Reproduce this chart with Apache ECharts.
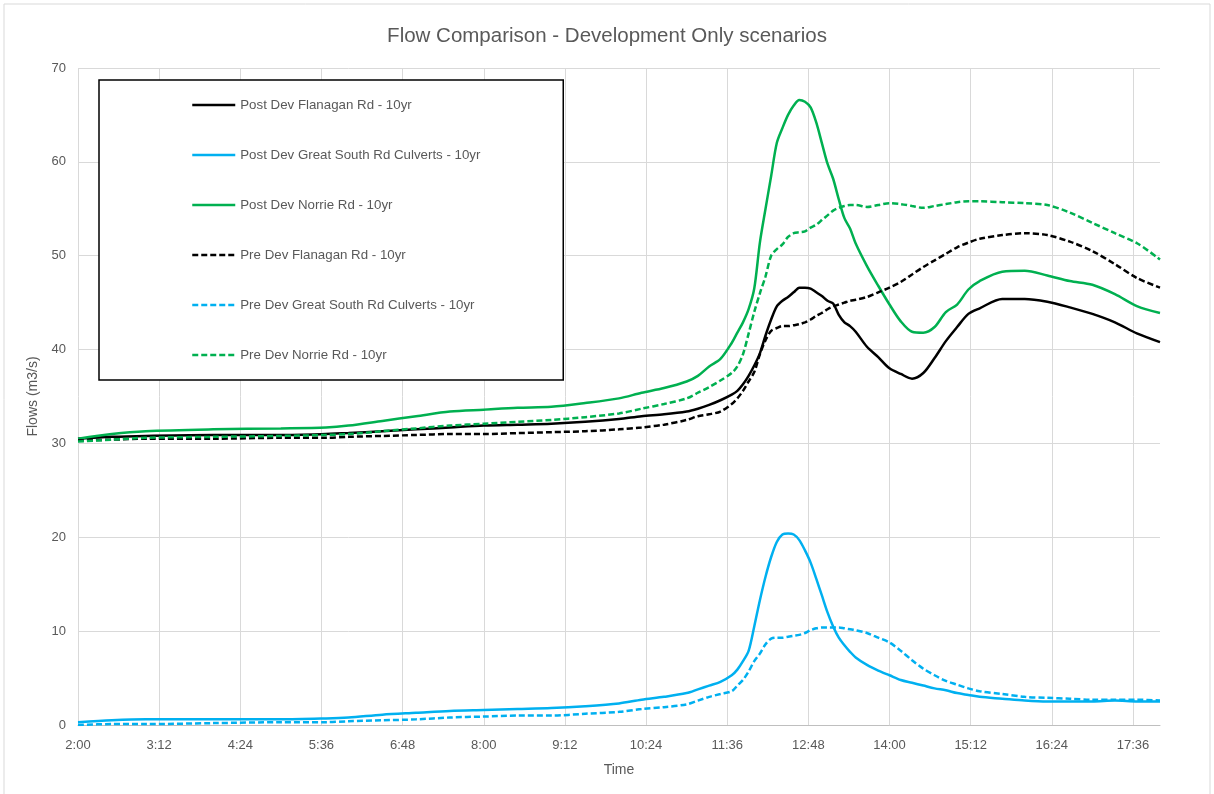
<!DOCTYPE html>
<html><head><meta charset="utf-8">
<script src="https://cdn.jsdelivr.net/npm/echarts@6/dist/echarts.min.js"></script>
<style>html,body{margin:0;padding:0;background:#fff}#c{width:1214px;height:794px}</style>
</head><body><div id="c"></div>
<script>
const titleText = 'Flow Comparison - Development Only scenarios';
const seriesNames = [
  'Post Dev Flanagan Rd - 10yr',
  'Post Dev Great South Rd Culverts - 10yr',
  'Post Dev Norrie Rd - 10yr',
  'Pre Dev Flanagan Rd - 10yr',
  'Pre Dev Great South Rd Culverts - 10yr',
  'Pre Dev Norrie Rd - 10yr'
];
const times = ['2:00','2:30','3:00','4:00','5:00','5:40','6:00','6:30','7:00','7:30','8:00','8:30','9:00','9:30','10:00','10:20','10:40','11:00','11:10','11:20','11:30','11:40','11:45','11:50','11:55','12:00','12:05','12:10','12:15','12:20','12:25','12:30','12:35','12:40','12:45','12:50','12:55','13:00','13:05','13:10','13:15','13:20','13:25','13:30','13:40','13:50','14:00','14:10','14:20','14:30','14:40','14:50','15:00','15:10','15:20','15:40','16:00','16:20','16:40','17:00','17:20','17:40','18:00'];

const postFlanagan = [30.5,30.7,30.8,30.9,30.9,31.0,31.1,31.3,31.5,31.7,31.9,32.0,32.1,32.3,32.6,32.9,33.1,33.4,33.7,34.1,34.6,35.2,35.6,36.3,37.2,38.3,39.6,41.5,43.2,44.6,45.2,45.6,46.1,46.6,46.6,46.5,46.1,45.7,45.2,44.9,43.7,42.9,42.5,41.9,40.3,39.2,38.0,37.4,36.9,37.5,39.1,40.9,42.4,43.8,44.4,45.4,45.4,45.1,44.5,43.8,42.9,41.7,40.8];
const postGSR = [0.3,0.5,0.6,0.6,0.6,0.7,0.8,1.1,1.3,1.5,1.6,1.7,1.8,2.0,2.3,2.7,3.0,3.4,3.8,4.2,4.6,5.3,5.9,6.8,7.9,10.5,13.3,15.8,17.9,19.5,20.3,20.4,20.3,19.7,18.6,17.3,15.6,13.8,12.0,10.5,9.3,8.5,7.8,7.2,6.4,5.8,5.3,4.8,4.5,4.2,3.9,3.7,3.4,3.2,3.0,2.8,2.6,2.5,2.5,2.5,2.6,2.5,2.5];
const postNorrie = [30.5,31.0,31.3,31.5,31.6,31.7,31.9,32.4,32.9,33.4,33.6,33.8,33.9,34.3,34.8,35.4,35.9,36.6,37.2,38.2,39.0,40.7,41.8,42.9,44.3,46.5,51.4,55.0,58.5,62.0,63.6,65.0,66.0,66.6,66.4,65.8,64.2,62.0,59.8,58.2,56.0,54.0,52.9,51.3,48.9,46.8,44.8,43.0,41.9,41.8,42.4,44.0,44.8,46.4,47.3,48.3,48.4,47.9,47.3,46.9,45.9,44.6,43.9];
const preFlanagan = [30.3,30.4,30.5,30.5,30.6,30.6,30.7,30.8,30.9,31.0,31.0,31.1,31.2,31.3,31.5,31.7,32.0,32.5,32.9,33.1,33.4,34.2,34.8,35.6,36.6,37.6,39.5,41.0,42.0,42.3,42.5,42.5,42.6,42.7,42.9,43.2,43.6,43.9,44.3,44.6,44.8,45.0,45.2,45.3,45.6,46.1,46.6,47.2,48.0,48.8,49.5,50.2,50.9,51.4,51.8,52.2,52.4,52.2,51.5,50.5,49.1,47.6,46.6];
const preGSR = [0.0,0.1,0.1,0.2,0.3,0.3,0.4,0.5,0.6,0.8,0.9,1.0,1.0,1.2,1.4,1.7,1.9,2.2,2.6,3.0,3.3,3.6,4.2,4.8,5.7,6.8,7.6,8.6,9.2,9.3,9.3,9.4,9.5,9.6,9.8,10.1,10.3,10.4,10.4,10.4,10.4,10.3,10.2,10.1,9.8,9.3,8.8,7.9,6.9,6.0,5.3,4.7,4.3,3.9,3.6,3.3,3.0,2.9,2.8,2.7,2.7,2.7,2.6];
const preNorrie = [30.2,30.4,30.6,30.7,30.8,30.9,31.0,31.3,31.6,31.9,32.1,32.3,32.5,32.8,33.2,33.7,34.2,34.8,35.4,36.0,36.7,37.5,38.2,39.5,41.7,44.0,46.0,47.8,50.0,50.7,51.2,52.0,52.4,52.5,52.6,53.0,53.3,53.8,54.3,54.8,55.1,55.3,55.4,55.4,55.2,55.4,55.6,55.5,55.3,55.1,55.3,55.5,55.7,55.8,55.8,55.7,55.6,55.4,54.6,53.5,52.4,51.3,49.6];

const START_MIN = 120; // 2:00
function toMin(s){ const p = s.split(':').map(Number); return p[0]*60 + p[1] - START_MIN; }
function fmt(v){ const t = Math.round(v) + START_MIN; const h = Math.floor(t/60), m = t % 60; return h + ':' + String(m).padStart(2,'0'); }

const valueSets = [postFlanagan, postGSR, postNorrie, preFlanagan, preGSR, preNorrie];
const colors = ['#000000','#00B0F0','#00B050','#000000','#00B0F0','#00B050'];
const dashes = ['solid','solid','solid',[6,3],[6,3],[6,3]];

const FONT = 'Liberation Sans';
const series = valueSets.map((vals, i) => ({
  name: seriesNames[i],
  type: 'line',
  data: times.map((t, j) => [toMin(t), vals[j]]),
  symbol: 'none',
  showSymbol: false,
  smooth: 0.3,
  lineStyle: { color: colors[i], width: 2.5, type: dashes[i] },
  itemStyle: { color: colors[i] },
  z: 3
}));

const chart = echarts.init(document.getElementById('c'), null, { renderer: 'canvas' });
chart.setOption({
  animation: false,
  backgroundColor: '#ffffff',
  title: {
    text: titleText, left: 'center', top: 21,
    textStyle: { fontFamily: FONT, fontSize: 20.5, fontWeight: 'normal', color: '#595959' }
  },
  graphic: [{
    type: 'rect', shape: { x: 4, y: 4, width: 1206, height: 800 },
    style: { fill: 'none', stroke: '#d9d9d9', lineWidth: 1 }, silent: true, z: -10
  }],
  grid: { left: 78, right: 54, top: 68, bottom: 69, containLabel: false },
  legend: {
    orient: 'vertical', left: 99, top: 80,
    padding: [18, 23, 18, 92],
    itemGap: 36, itemWidth: 43, itemHeight: 14, itemTextGap: 2,
    borderColor: '#000000', borderWidth: 1.5,
    backgroundColor: '#ffffff',
    itemStyle: { opacity: 0 },
    lineStyle: { width: 2.5 },
    textStyle: { fontFamily: FONT, fontSize: 13.3, color: '#595959', width: 300, lineHeight: 14 },
    data: seriesNames
  },
  xAxis: {
    type: 'value', min: 0, max: 960, interval: 72,
    name: 'Time', nameLocation: 'middle', nameGap: 38,
    nameTextStyle: { fontFamily: FONT, fontSize: 14, color: '#595959' },
    axisLine: { show: true, lineStyle: { color: '#bfbfbf', width: 1 } },
    axisTick: { show: false },
    axisLabel: { formatter: fmt, showMaxLabel: false, margin: 14, fontFamily: FONT, fontSize: 13, color: '#595959' },
    splitLine: { show: true, showMaxLine: false, lineStyle: { color: '#d9d9d9', width: 1 } }
  },
  yAxis: {
    type: 'value', min: 0, max: 70, interval: 10,
    name: 'Flows (m3/s)', nameLocation: 'middle', nameGap: 31,
    nameTextStyle: { fontFamily: FONT, fontSize: 14, color: '#595959' },
    axisLine: { show: false },
    axisTick: { show: false },
    axisLabel: { margin: 12, fontFamily: FONT, fontSize: 13, color: '#595959' },
    splitLine: { show: true, lineStyle: { color: '#d9d9d9', width: 1 } }
  },
  series: series
});
</script></body></html>
